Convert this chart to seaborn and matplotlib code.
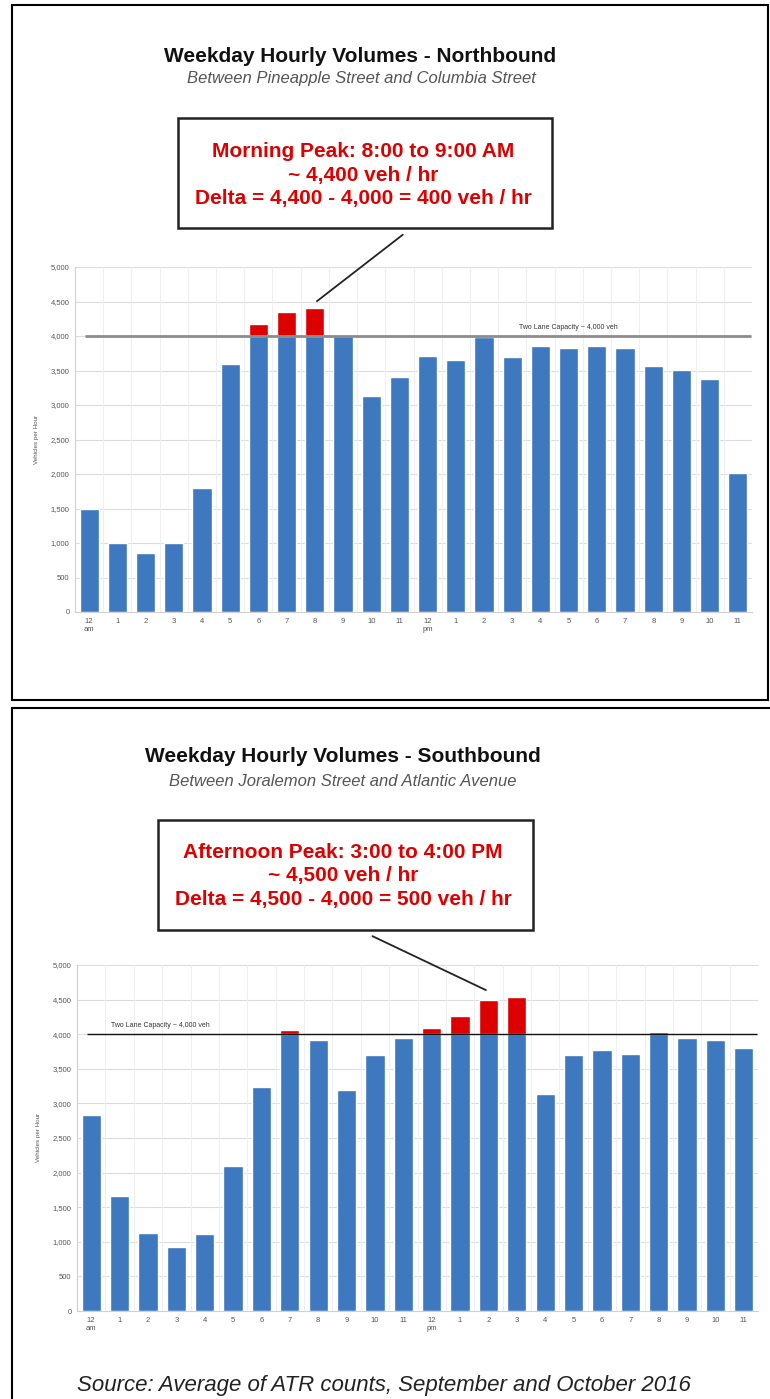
import matplotlib
matplotlib.use("Agg")
import matplotlib.pyplot as plt
import seaborn as sns
import pandas as pd
from matplotlib.patches import Rectangle
from matplotlib.ticker import FuncFormatter

# hour labels (12 am .. 11 pm)
hours = ['12\nam', '1', '2', '3', '4', '5', '6', '7', '8', '9', '10', '11',
         '12\npm', '1', '2', '3', '4', '5', '6', '7', '8', '9', '10', '11']

# weekday hourly volumes
nb_volumes = [1500, 1000, 850, 1000, 1790, 3600, 4170, 4350, 4410, 4000, 3130, 3400,
              3710, 3650, 3990, 3700, 3850, 3830, 3850, 3820, 3560, 3510, 3380, 2010]
sb_volumes = [2830, 1660, 1130, 930, 1110, 2100, 3240, 4060, 3910, 3200, 3700, 3940,
              4090, 4270, 4500, 4540, 3140, 3700, 3770, 3720, 4030, 3950, 3910, 3800]
capacity = 4000

nb_title = 'Weekday Hourly Volumes - Northbound'
nb_sub = 'Between Pineapple Street and Columbia Street'
nb_box = 'Morning Peak: 8:00 to 9:00 AM\n~ 4,400 veh / hr\nDelta = 4,400 - 4,000 = 400 veh / hr'
sb_title = 'Weekday Hourly Volumes - Southbound'
sb_sub = 'Between Joralemon Street and Atlantic Avenue'
sb_box = 'Afternoon Peak: 3:00 to 4:00 PM\n~ 4,500 veh / hr\nDelta = 4,500 - 4,000 = 500 veh / hr'
cap_label = 'Two Lane Capacity ~ 4,000 veh'
source = 'Source: Average of ATR counts, September and October 2016'

sns.set_style('white')
plt.rcParams['font.family'] = ['Liberation Sans', 'DejaVu Sans']

BLUE = '#3e78bf'
RED = '#dd0000'

W, H = 770, 1399
fig = plt.figure(figsize=(W / 100, H / 100), dpi=100)


def fx(px):
    return px / W


def fy(py):
    return 1 - py / H


def draw_panel(ax, volumes, cap_color, cap_lw, cap_text_x, cap_text_ha):
    df = pd.DataFrame({'pos': list(range(len(volumes))),
                       'vol': volumes,
                       'capped': [min(v, capacity) for v in volumes]})
    # red over the full height, blue up to capacity on top
    sns.barplot(data=df, x='pos', y='vol', color=RED, saturation=1, width=0.68, ax=ax)
    sns.barplot(data=df, x='pos', y='capped', color=BLUE, saturation=1, width=0.68, ax=ax)
    ax.set_ylim(0, 5000)
    ax.set_xlim(-0.5, len(volumes) - 0.5)
    ax.set_yticks(range(0, 5001, 500))
    ax.yaxis.set_major_formatter(FuncFormatter(lambda v, p: f'{int(v):,}'))
    ax.set_xticks(range(len(volumes)))
    ax.set_xticklabels(hours)
    ax.tick_params(axis='both', labelsize=5.5, colors='#555555', length=0, pad=4)
    ax.set_xlabel('')
    ax.set_ylabel('Vehicles per Hour', fontsize=4.5, color='#555555', labelpad=8)
    for y in range(500, 5001, 500):
        ax.axhline(y, color='#dcdcdc', lw=0.8, zorder=0)
    for x in range(len(volumes) + 1):
        ax.axvline(x - 0.5, color='#efefef', lw=0.8, zorder=0)
    for s in ['top', 'right']:
        ax.spines[s].set_visible(False)
    ax.spines['left'].set_color('#d0d0d0')
    ax.spines['bottom'].set_color('#d0d0d0')
    ax.hlines(capacity, -0.15, len(volumes) - 0.55, color=cap_color, lw=cap_lw, zorder=5)
    ax.text(cap_text_x, capacity + 70, cap_label, fontsize=5, color='#333333',
            ha=cap_text_ha, va='bottom', zorder=6)


# panel borders
fig.add_artist(Rectangle((fx(12), fy(700)), fx(756), 695 / H, transform=fig.transFigure,
                         fill=False, ec='black', lw=1.5))
fig.add_artist(Rectangle((fx(12), fy(1402)), fx(760), 694 / H, transform=fig.transFigure,
                         fill=False, ec='black', lw=1.5))

# top chart (northbound)
ax1 = fig.add_axes([fx(75), fy(612), fx(677), 345 / H])
draw_panel(ax1, nb_volumes, '#8c8c8c', 2.0, 17, 'center')
fig.text(fx(360), fy(57), nb_title, ha='center', va='center', fontsize=15,
         fontweight='bold', color='#111111')
fig.text(fx(361), fy(79), nb_sub, ha='center', va='center', fontsize=12,
         style='italic', color='#555555')
fig.add_artist(Rectangle((fx(178), fy(228)), fx(374), 110 / H, transform=fig.transFigure,
                         fill=False, ec='#222222', lw=1.8))
fig.text(fx(363), fy(175), nb_box, ha='center', va='center', fontsize=15,
         fontweight='bold', color=RED, linespacing=1.3)
ax1.annotate('', xy=(8, 4480), xycoords='data',
             xytext=(fx(405), fy(233)), textcoords='figure fraction',
             arrowprops=dict(arrowstyle='-', color='#222222', lw=1.3))

# bottom chart (southbound)
ax2 = fig.add_axes([fx(77), fy(1311), fx(681), 346 / H])
draw_panel(ax2, sb_volumes, '#111111', 1.0, 0.7, 'left')
fig.text(fx(343), fy(757), sb_title, ha='center', va='center', fontsize=15,
         fontweight='bold', color='#111111')
fig.text(fx(343), fy(781), sb_sub, ha='center', va='center', fontsize=12,
         style='italic', color='#555555')
fig.add_artist(Rectangle((fx(158), fy(930)), fx(375), 110 / H, transform=fig.transFigure,
                         fill=False, ec='#222222', lw=1.8))
fig.text(fx(343), fy(876), sb_box, ha='center', va='center', fontsize=15,
         fontweight='bold', color=RED, linespacing=1.3)
ax2.annotate('', xy=(14, 4620), xycoords='data',
             xytext=(fx(370), fy(935)), textcoords='figure fraction',
             arrowprops=dict(arrowstyle='-', color='#222222', lw=1.3))

fig.text(fx(384), fy(1385), source, ha='center', va='center', fontsize=16,
         style='italic', color='#222222')

fig.savefig('out.png', dpi=100)
